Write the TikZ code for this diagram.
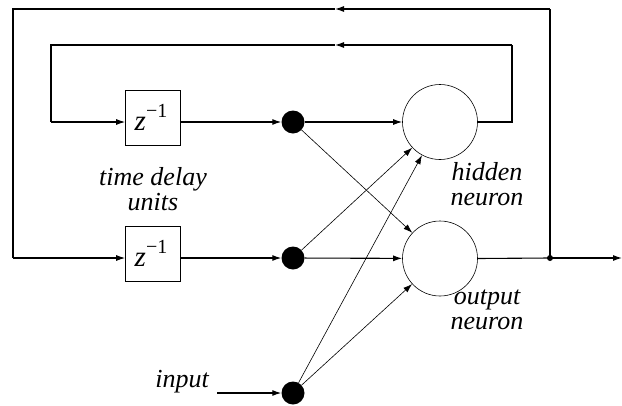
\documentclass[tikz,border=0pt]{standalone}
\usepackage{fontspec}
\setmainfont{Liberation Serif}
\usetikzlibrary{arrows.meta}
\begin{document}
\begin{tikzpicture}[x=1pt,y=-1pt,
  thickln/.style={line width=1.1pt},
  thinln/.style={line width=0.6pt},
  tip/.style={-{Latex[length=9pt,width=6pt]}},
  delaybox/.style={draw,line width=1.1pt,minimum width=54.5pt,minimum height=54.5pt,inner sep=0pt,font=\fontsize{29}{29}\selectfont},
  dotnode/.style={circle,fill=black,minimum size=23pt,inner sep=0pt},
  neuron/.style={circle,draw,line width=0.6pt,minimum size=75pt,inner sep=0pt},
  lbl/.style={font=\fontsize{26}{25}\selectfont\itshape,align=center,inner sep=0pt}]
\useasboundingbox (0,0) rectangle (622,405);
% nodes
\node[delaybox] (b1) at (153,118) {};
\node[delaybox] (b2) at (153,254) {};
\node[font=\fontsize{29}{29}\selectfont,inner sep=0pt,anchor=base] (z1) at (151,130) {\textit{z}\raisebox{0.42em}{\fontsize{20}{20}\selectfont −1}};
\node[font=\fontsize{29}{29}\selectfont,inner sep=0pt,anchor=base] (z2) at (151,266) {\textit{z}\raisebox{0.42em}{\fontsize{20}{20}\selectfont −1}};
\node[dotnode] (d1) at (293,122) {};
\node[dotnode] (d2) at (293,258) {};
\node[dotnode] (d3) at (293,393) {};
\node[neuron] (h) at (440,122) {};
\node[neuron] (o) at (440,258.5) {};
\node[circle,fill=black,minimum size=6pt,inner sep=0pt] (j) at (550,258) {};
\coordinate (c1) at (512,45);
\coordinate (a1) at (335,45);
\coordinate (c2) at (51,45);
\coordinate (c3) at (51,122);
\coordinate (e1) at (550,9);
\coordinate (a2) at (335,9);
\coordinate (e2) at (13,9);
\coordinate (e3) at (13,258);
\coordinate (out) at (622,258);
\coordinate (in) at (217,393);
% labels
\node[lbl] (t1) at (153,189) {time delay\\units};
\node[lbl] (t2) at (487,184) {hidden\\neuron};
\node[lbl] (t3) at (487,310) {output\\neuron};
\node[lbl,anchor=east] (t4) at (209,382) {input};
% thick connectors
\draw[thickln] (h.east) -| (c1);
\draw[thickln,tip] (c1) -- (a1);
\draw[thickln] (a1) -- (c2) -- (c3);
\draw[thickln,tip] (c3) -- (b1.west |- c3);
\draw[thickln,tip] (b1.east |- d1) -- (d1);
\draw[thickln,tip] (d1) -- (h);
\draw[thickln] (j.center) -- (e1);
\draw[thickln,tip] (e1) -- (a2);
\draw[thickln] (a2) -- (e2) -- (e3);
\draw[thickln,tip] (e3) -- (b2.west |- e3);
\draw[thickln,tip] (b2.east |- d2) -- (d2);
\draw[thickln,tip] (d2) -- (o);
\draw[thickln] (o.east) -- (j.center);
\draw[thickln,tip] (j.center) -- (out);
\draw[thickln,tip] (in) -- (d3);
% thin connectors
\draw[thinln,tip] (d1) -- (o);
\draw[thinln,tip] (d2) -- (h);
\draw[thinln,tip] (d3) -- (h);
\draw[thinln,tip] (d3) -- (o);
\end{tikzpicture}
\end{document}
